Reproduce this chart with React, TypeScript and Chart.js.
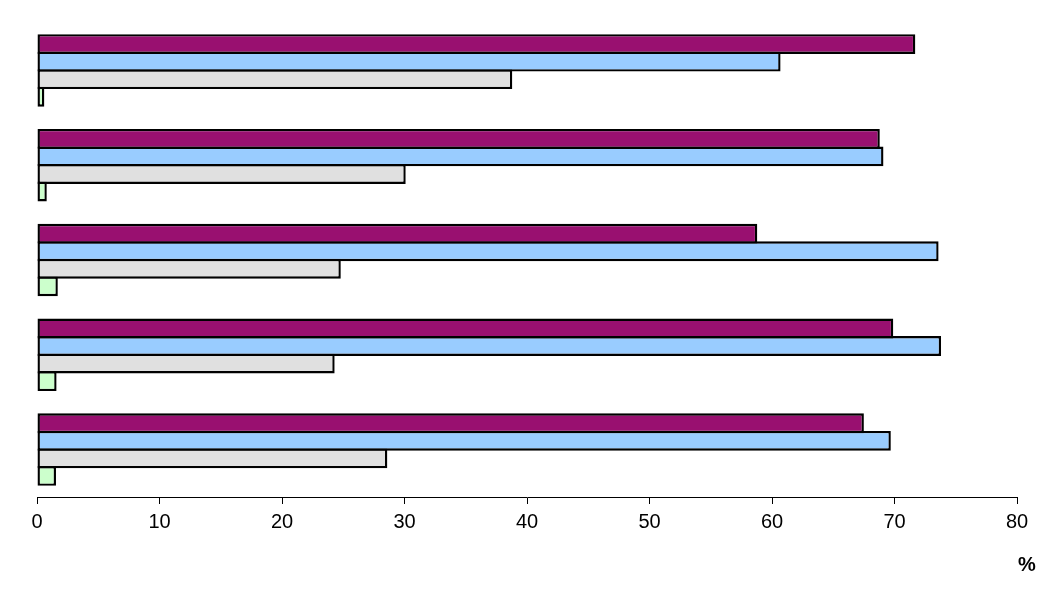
import React, { useEffect, useRef } from "react";
import { Chart, registerables } from "chart.js";

Chart.register(...registerables);

const categories = ["Group 1", "Group 2", "Group 3", "Group 4", "Group 5"];
const seriesA = [71.7, 68.8, 58.8, 69.9, 67.5]; // purple
const seriesB = [60.7, 69.1, 73.6, 73.8, 69.7]; // blue
const seriesC = [38.8, 30.1, 24.8, 24.3, 28.6]; // grey
const seriesD = [0.6, 0.8, 1.7, 1.6, 1.55]; // green
const xTicks = [0, 10, 20, 30, 40, 50, 60, 70, 80];
const unitLabel = "%";

const FONT = "'Liberation Sans', Arial, sans-serif";

const percentPlugin = {
  id: "percentLabel",
  afterDraw(chart: any) {
    const ctx = chart.ctx;
    const area = chart.chartArea;
    ctx.save();
    ctx.font = `bold 20px ${FONT}`;
    ctx.fillStyle = "#000";
    ctx.textAlign = "center";
    ctx.textBaseline = "middle";
    ctx.fillText(unitLabel, area.right + 10, area.bottom + 68);
    ctx.restore();
  },
};

export default function App() {
  const ref = useRef<HTMLCanvasElement | null>(null);

  useEffect(() => {
    if (!ref.current) return;
    const mk = (label: string, data: number[], color: string) => ({
      label,
      data,
      backgroundColor: color,
      borderColor: "#000",
      borderWidth: 2.4,
      borderSkipped: false,
      inflateAmount: 0,
      categoryPercentage: 0.741,
      barPercentage: 1.13,
    });
    const chart = new Chart(ref.current, {
      type: "bar",
      data: {
        labels: categories,
        datasets: [
          mk("A", seriesA, "#991070"),
          mk("B", seriesB, "#99CCFF"),
          mk("C", seriesC, "#E0E0E0"),
          mk("D", seriesD, "#CCFFCC"),
        ] as any,
      },
      options: {
        indexAxis: "y",
        animation: false,
        responsive: true,
        maintainAspectRatio: false,
        layout: { padding: { left: 37, right: 36, top: 23, bottom: 0 } },
        plugins: {
          legend: { display: false },
          tooltip: { enabled: false },
        },
        scales: {
          y: { display: false },
          x: {
            min: 0,
            max: 80,
            afterBuildTicks: (scale: any) => {
              scale.ticks = xTicks.map((v) => ({ value: v }));
            },
            afterFit: (scale: any) => {
              scale.height = 108;
            },
            border: { display: true, color: "#000", width: 1 },
            grid: {
              display: true,
              drawOnChartArea: false,
              drawTicks: true,
              tickLength: 7,
              color: "#000",
              lineWidth: 1,
            },
            ticks: {
              color: "#000",
              padding: 6,
              maxRotation: 0,
              font: { family: FONT, size: 20 },
            },
          },
        },
      } as any,
      plugins: [percentPlugin],
    });
    return () => chart.destroy();
  }, []);

  return (
    <div style={{ position: "absolute", left: 0, top: 0, width: 1053, height: 605, background: "#fff" }}>
      <canvas ref={ref} />
    </div>
  );
}
